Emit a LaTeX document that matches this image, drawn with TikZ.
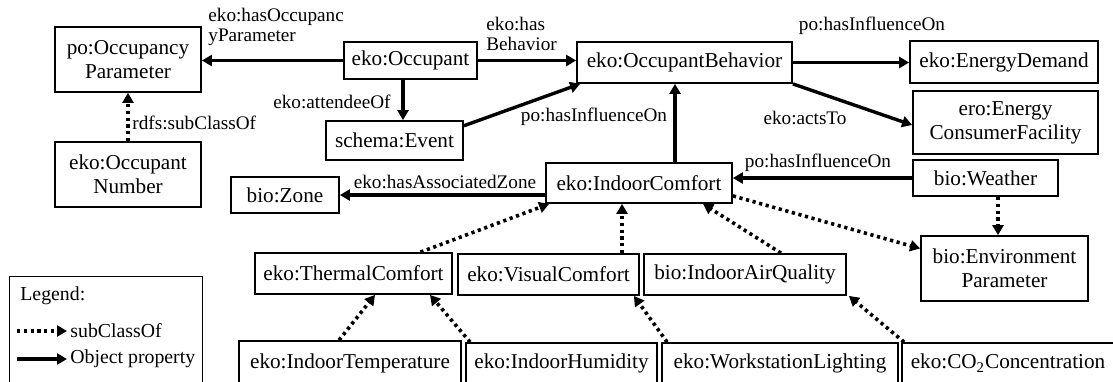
\documentclass[tikz,border=0pt]{standalone}
\usepackage{fontspec}
\setmainfont{Liberation Serif}
\usetikzlibrary{arrows.meta,calc}
\begin{document}
\begin{tikzpicture}[x=0.5pt,y=-0.5pt,
  box/.style={draw,line width=0.9pt,inner sep=1pt,align=center,font=\fontsize{10.6}{12}\selectfont},
  lbl/.style={inner sep=0pt,align=left,font=\fontsize{9.6}{10}\selectfont},
  leglbl/.style={inner sep=0pt,align=left,font=\fontsize{9.9}{11}\selectfont},
  obj/.style={line width=1.7pt,-{Triangle[length=5pt,width=5.5pt]}},
  sub/.style={line width=1.8pt,dash pattern=on 1.6pt off 1.8pt,-{Triangle[length=5pt,width=5.5pt]}},
]
\clip (0,0) rectangle (1113,381);
% nodes
\node[box,minimum width=73pt,minimum height=32.5pt] (opar) at (128,59.5) {po:Occupancy\\Parameter};
\node[box,minimum width=66.5pt,minimum height=18.5pt] (occ) at (410.5,60.5) {eko:Occupant};
\node[box,minimum width=68.5pt,minimum height=19.5pt] (ev) at (394.5,140.5) {schema:Event};
\node[box,minimum width=73pt,minimum height=32.5pt] (onum) at (128,174.5) {eko:Occupant\\Number};
\node[box,minimum width=54pt,minimum height=18pt] (zone) at (285,195) {bio:Zone};
\node[box,minimum width=107.5pt,minimum height=20.5pt] (ob) at (684.5,62.5) {eko:OccupantBehavior};
\node[box,minimum width=94pt,minimum height=21pt] (ed) at (1004,62) {eko:EnergyDemand};
\node[box,minimum width=92.5pt,minimum height=31.5pt] (ecf) at (1005.5,122.5) {ero:Energy\\ConsumerFacility};
\node[box,minimum width=93pt,minimum height=20pt] (ic) at (639,183) {eko:IndoorComfort};
\node[box,minimum width=72.5pt,minimum height=18pt] (wea) at (985.5,178) {bio:Weather};
\node[box,minimum width=98.5pt,minimum height=20.5pt] (tc) at (353.5,273.5) {eko:ThermalComfort};
\node[box,minimum width=90.5pt,minimum height=20.5pt] (vc) at (548.5,274.5) {eko:VisualComfort};
\node[box,minimum width=101pt,minimum height=20.5pt] (iaq) at (745,274.5) {bio:IndoorAirQuality};
\node[box,minimum width=83.5pt,minimum height=32.5pt] (env) at (1004.5,268.5) {bio:Environment\\Parameter};
\node[box,minimum width=111pt,minimum height=22pt] (it) at (350,363) {eko:IndoorTemperature};
\node[box,minimum width=95.5pt,minimum height=20pt] (ih) at (561.5,363) {eko:IndoorHumidity};
\node[box,minimum width=118pt,minimum height=20pt] (wl) at (780,363) {eko:WorkstationLighting};
\node[box,minimum width=106pt,minimum height=20pt] (co2) at (1008,363) {eko:CO\textsubscript{2}Concentration};
% object properties
\draw[obj] (occ.west) -- (occ.west -| opar.east);
\draw[obj] (occ.east) -- (occ.east -| ob.west);
\coordinate (oa) at ($(occ.south)+(-7.5,0)$);
\draw[obj] (oa) -- (oa |- ev.north);
\draw[obj] (ev.12) -- ($(ob.south west)+(4,0)$);
\draw[obj] (ob.east) -- (ob.east -| ed.west);
\draw[obj] (ob.south east) -- ($(ecf.west)+(0,2.5)$);
\coordinate (ica) at ($(ic.north)+(36,0)$);
\draw[obj] (ica) -- (ica |- ob.south);
\draw[obj] (wea.west) -- (wea.west -| ic.east);
\draw[obj] (zone.east -| ic.west) -- (zone.east);
% subclass
\draw[sub] (onum.north) -- (opar.south);
\draw[sub] ($(tc.north)+(67,0)$) -- ($(ic.south west)+(4,0)$);
\coordinate (vca) at ($(vc.north)+(73.5,0)$);
\draw[sub] (vca) -- (vca |- ic.south);
\draw[sub] ($(iaq.north)+(36,0)$) -- ($(ic.south)+(64,0)$);
\draw[sub] ($(ic.south east)+(0,-8)$) -- ($(env.west)+(0,-20)$);
\coordinate (wa) at ($(wea.south)+(12.5,0)$);
\draw[sub] (wa) -- (wa |- env.north);
\draw[sub] ($(it.north)+(-11,0)$) -- ($(tc.south)+(21.5,0)$);
\draw[sub] ($(ih.north west)+(5,0)$) -- ($(tc.south)+(76.5,0)$);
\draw[sub] ($(wl.north west)+(6,0)$) -- ($(vc.south east)+(-6,0)$);
\draw[sub] ($(co2.north west)+(3,0)$) -- ($(iaq.south east)+(2,0)$);
% labels
\node[lbl,anchor=west] (l1) at (208,27) {eko:hasOccupanc\\yParameter};
\node[lbl,anchor=west] (l2) at (486,33.5) {eko:has\\Behavior};
\node[lbl,anchor=east] (l3) at (391,102) {eko:attendeeOf};
\node[lbl,anchor=west] (l4) at (132,123) {rdfs:subClassOf};
\node[lbl] (l5) at (445,182) {eko:hasAssociatedZone};
\node[lbl] (l6) at (872,26) {po:hasInfluenceOn};
\node[lbl] (l7) at (805,118) {eko:actsTo};
\node[lbl] (l8) at (594,117) {po:hasInfluenceOn};
\node[lbl] (l9) at (818,163) {po:hasInfluenceOn};
% legend
\node[draw,line width=0.7pt,minimum width=96.5pt,minimum height=62pt,anchor=north west,inner sep=0pt] (leg) at (9,276) {};
\node[leglbl,anchor=west] (legt) at (20,296) {Legend:};
\coordinate (s1) at (17,331);
\coordinate (s2) at (67,331);
\draw[sub] (s1) -- (s2);
\node[leglbl,anchor=west] (legs) at (70,331) {subClassOf};
\coordinate (o1) at (17,359);
\coordinate (o2) at (67,359);
\draw[obj] (o1) -- (o2);
\node[leglbl,anchor=west] (lego) at (70,359) {Object property};
\end{tikzpicture}
\end{document}
